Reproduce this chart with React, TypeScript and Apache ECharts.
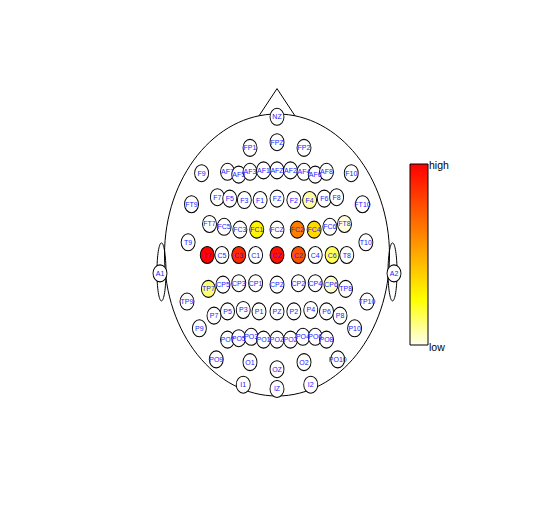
import React, { useEffect, useRef } from "react";
import * as echarts from "echarts";

// Electrode montage (head units: x,y in [-1,1] of the head outline)
const electrodeNames = [
  "NZ", "FP1", "FPZ", "FP2",
  "F9", "AF7", "AF5", "AF3", "AF1", "AFZ", "AF2", "AF4", "AF6", "AF8", "F10",
  "F7", "F5", "F3", "F1", "FZ", "F2", "F4", "F6", "F8",
  "FT9", "FT10",
  "FT7", "FC5", "FC3", "FC1", "FCZ", "FC2", "FC4", "FC6", "FT8",
  "T9", "T10",
  "T7", "C5", "C3", "C1", "CZ", "C2", "C4", "C6", "T8",
  "A1", "A2",
  "TP7", "CP5", "CP3", "CP1", "CPZ", "CP2", "CP4", "CP6", "TP8",
  "TP9", "TP10",
  "P7", "P5", "P3", "P1", "PZ", "P2", "P4", "P6", "P8",
  "P9", "P10",
  "PO7", "PO5", "PO3", "PO1", "POZ", "PO2", "PO4", "PO6", "PO8",
  "PO9", "O1", "OZ", "O2", "PO10",
  "I1", "IZ", "I2",
];
const electrodeX = [
  0, -0.24, 0, 0.24,
  -0.67, -0.44, -0.34, -0.24, -0.12, 0, 0.12, 0.24, 0.34, 0.44, 0.66,
  -0.53, -0.42, -0.29, -0.15, 0, 0.15, 0.29, 0.42, 0.53,
  -0.76, 0.76,
  -0.6, -0.47, -0.33, -0.18, 0, 0.18, 0.33, 0.47, 0.6,
  -0.79, 0.79,
  -0.62, -0.49, -0.34, -0.19, 0, 0.19, 0.34, 0.49, 0.62,
  -1.04, 1.04,
  -0.61, -0.48, -0.34, -0.19, 0, 0.19, 0.34, 0.48, 0.61,
  -0.8, 0.8,
  -0.56, -0.44, -0.3, -0.16, 0, 0.15, 0.3, 0.44, 0.56,
  -0.69, 0.69,
  -0.44, -0.34, -0.23, -0.12, 0, 0.12, 0.23, 0.34, 0.44,
  -0.54, -0.24, 0, 0.24, 0.54,
  -0.3, 0, 0.3,
];
const electrodeY = [
  0.98, 0.76, 0.8, 0.76,
  0.58, 0.59, 0.57, 0.59, 0.6, 0.6, 0.6, 0.59, 0.57, 0.59, 0.58,
  0.41, 0.4, 0.39, 0.39, 0.4, 0.39, 0.39, 0.4, 0.41,
  0.36, 0.36,
  0.22, 0.2, 0.18, 0.18, 0.18, 0.18, 0.18, 0.2, 0.22,
  0.09, 0.09,
  0, 0, 0, 0, 0, 0, 0, 0, 0,
  -0.13, -0.13,
  -0.24, -0.21, -0.2, -0.2, -0.21, -0.2, -0.2, -0.21, -0.24,
  -0.33, -0.33,
  -0.43, -0.4, -0.39, -0.4, -0.4, -0.4, -0.39, -0.4, -0.43,
  -0.52, -0.52,
  -0.6, -0.59, -0.58, -0.6, -0.6, -0.6, -0.58, -0.58, -0.6,
  -0.74, -0.76, -0.81, -0.76, -0.74,
  -0.92, -0.95, -0.92,
];

// Electrodes with a value (0 = low, 1 = high)
const activeNames = ["T7", "CZ", "C3", "C2", "FC2", "FC4", "FC1", "C6", "TP7", "F4", "CP6", "FT8"];
const activeValues = [1.0, 0.95, 0.88, 0.76, 0.63, 0.36, 0.28, 0.16, 0.13, 0.08, 0.04, 0.02];

const legendLabels = ["high", "low"];
const heatColors = ["#FFFFF0", "#FFFF00", "#FFAA00", "#FF5500", "#FF0000"];

const ellipseSymbol = "path://M1,0A1,1 0 1,1 1,2A1,1 0 1,1 1,0Z";

export default function App() {
  const ref = useRef<HTMLDivElement>(null);
  useEffect(() => {
    document.body.style.margin = "0";
    const chart = echarts.init(ref.current!, null, { renderer: "svg" });
    const inactive: any[] = [];
    const active: any[] = [];
    electrodeNames.forEach((n, i) => {
      const k = activeNames.indexOf(n);
      if (k >= 0) active.push({ name: n, value: [electrodeX[i], electrodeY[i], activeValues[k]] });
      else inactive.push({ name: n, value: [electrodeX[i], electrodeY[i]] });
    });
    const label = {
      show: true,
      position: "inside",
      formatter: (p: any) => p.name,
      color: "#1a1aff",
      fontSize: 7,
      fontFamily: "Liberation Sans",
    };
    chart.setOption({
      animation: false,
      backgroundColor: "#ffffff",
      grid: { left: 108.25, top: 43.5, width: 337.5, height: 423 },
      xAxis: { type: "value", min: -1.5, max: 1.5, show: false },
      yAxis: { type: "value", min: -1.5, max: 1.5, show: false },
      visualMap: {
        show: false,
        type: "continuous",
        seriesIndex: 1,
        dimension: 2,
        min: 0,
        max: 1,
        inRange: { color: heatColors },
      },
      series: [
        {
          type: "scatter",
          symbol: ellipseSymbol,
          symbolSize: [14, 17],
          itemStyle: { color: "#ffffff", borderColor: "#000000", borderWidth: 1, opacity: 1 },
          label,
          data: inactive,
          z: 3,
        },
        {
          type: "scatter",
          symbol: ellipseSymbol,
          symbolSize: [14, 17],
          itemStyle: { borderColor: "#000000", borderWidth: 1, opacity: 1 },
          label,
          data: active,
          z: 3,
        },
      ],
    });
    const p = (x: number, y: number) => chart.convertToPixel({ gridIndex: 0 }, [x, y]) as number[];
    const c = p(0, 0);
    const e = p(1, 1);
    const rx = e[0] - c[0];
    const ry = c[1] - e[1];
    const noseL = p(-0.16, 0.987);
    const noseT = p(0, 1.18);
    const noseR = p(0.16, 0.987);
    const earL = p(-1.027, -0.12);
    const earR = p(1.027, -0.12);
    const line = { fill: "none", stroke: "#000000", lineWidth: 1 };
    const barX = 410, barY = 164, barW = 18, barH = 181;
    chart.setOption({
      graphic: [
        { type: "ellipse", z: 1, shape: { cx: c[0], cy: c[1], rx, ry }, style: line },
        { type: "polyline", z: 1, shape: { points: [noseL, noseT, noseR] }, style: line },
        { type: "ellipse", z: 1, shape: { cx: earL[0], cy: earL[1], rx: 0.04 * rx, ry: 0.206 * ry }, style: line },
        { type: "ellipse", z: 1, shape: { cx: earR[0], cy: earR[1], rx: 0.04 * rx, ry: 0.206 * ry }, style: line },
        {
          type: "rect",
          z: 1,
          shape: { x: barX, y: barY, width: barW, height: barH },
          style: {
            fill: new echarts.graphic.LinearGradient(0, 1, 0, 0, heatColors.map((col, i) => ({ offset: i / (heatColors.length - 1), color: col }))),
            stroke: "#000000",
            lineWidth: 1,
          },
        },
        {
          type: "text",
          z: 1,
          x: barX + barW + 1,
          y: barY + 1,
          style: { text: legendLabels[0], fill: "#000", fontSize: 10.5, fontFamily: "Liberation Sans", textVerticalAlign: "middle" },
        },
        {
          type: "text",
          z: 1,
          x: barX + barW + 1,
          y: barY + barH + 2,
          style: { text: legendLabels[1], fill: "#000", fontSize: 10.5, fontFamily: "Liberation Sans", textVerticalAlign: "middle" },
        },
      ],
    });
    return () => chart.dispose();
  }, []);
  return <div ref={ref} style={{ position: "fixed", left: 0, top: 0, width: 554, height: 512 }} />;
}
